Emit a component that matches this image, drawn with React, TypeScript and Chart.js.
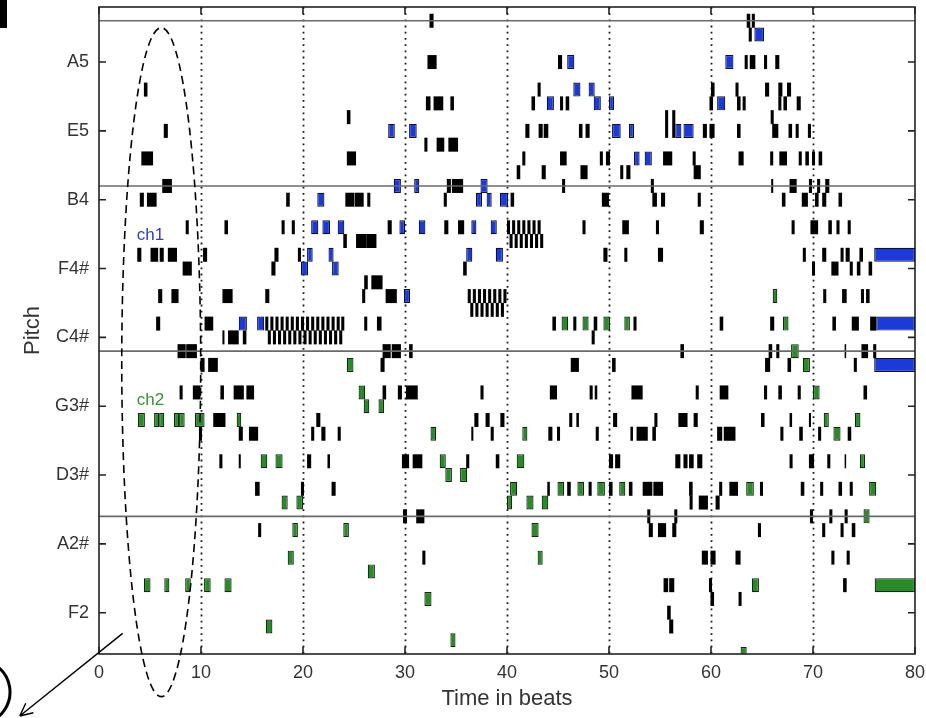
import React, { useEffect, useRef } from 'react';
import { Chart, registerables } from 'chart.js';

Chart.register(...registerables);

// Each note: [start beat, end beat, MIDI pitch]
type Note = [number, number, number];

const beatTicks = [0, 10, 20, 30, 40, 50, 60, 70, 80];
const gridBeats = [10, 20, 30, 40, 50, 60, 70];
const pitchTicks = [41, 46, 51, 56, 61, 66, 71, 76, 81];
const pitchTickLabels = ['F2', 'A2#', 'D3#', 'G3#', 'C4#', 'F4#', 'B4', 'E5', 'A5'];
const octaveLines = [48, 60, 72, 84];
const pitchRange = [38, 85];
const beatRange = [0, 80];

// accompaniment / other voices (black)
const otherNotes: Note[] = [
  [4.0, 4.4, 71], [4.15, 5.3, 74], [4.4, 4.75, 79], [4.7, 5.65, 71], [6.35, 6.75, 76], [6.2, 7.15, 72],
  [3.75, 4.15, 67], [5.05, 5.8, 67], [5.95, 6.35, 67], [6.75, 7.65, 67], [8.2, 9.1, 66], [8.5, 8.8, 69],
  [5.8, 6.2, 64], [7.1, 7.8, 64], [5.6, 6.0, 62], [7.7, 8.5, 60], [8.55, 9.6, 60], [7.9, 8.2, 57], [9.2, 9.95, 57],
  [9.8, 10.1, 54], [9.95, 10.35, 59], [10.2, 10.6, 67], [10.35, 11.2, 62], [10.7, 11.65, 59], [11.2, 12.4, 55],
  [11.8, 12.1, 52], [11.9, 12.25, 57], [12.1, 13.1, 64], [12.1, 12.3, 61], [12.3, 12.65, 69], [12.65, 13.7, 61],
  [13.2, 14.2, 57], [13.7, 14.1, 54], [13.7, 13.9, 52], [14.1, 14.45, 61], [14.45, 15.2, 57], [14.7, 15.6, 54],
  [15.3, 15.75, 50], [15.6, 15.9, 47], [16.3, 16.7, 64], [16.9, 17.3, 66], [17.2, 17.6, 67], [17.9, 18.2, 69],
  [18.35, 18.7, 71], [18.9, 19.2, 69], [19.5, 19.8, 67], [19.8, 20.1, 50], [20.4, 20.8, 52], [20.8, 21.1, 54],
  [21.3, 21.7, 55], [21.8, 22.2, 54], [22.4, 22.65, 52], [22.8, 23.2, 50], [23.4, 23.7, 54], [23.95, 24.3, 68],
  [24.15, 25.0, 71], [24.3, 25.2, 74], [24.3, 24.65, 77], [25.05, 25.95, 71], [25.2, 26.2, 68], [26.2, 27.2, 68],
  [25.8, 26.1, 64], [26.0, 26.35, 65], [26.0, 26.3, 62], [26.3, 26.6, 71], [26.7, 27.8, 65], [27.25, 27.7, 62],
  [27.6, 28.0, 59], [27.8, 28.15, 57], [27.8, 28.6, 60], [28.1, 29.2, 64], [28.3, 28.7, 69], [28.7, 29.6, 60],
  [29.3, 29.7, 57], [29.7, 30.4, 52], [29.8, 30.2, 48], [30.1, 31.25, 57], [30.4, 30.75, 60], [30.75, 31.7, 52],
  [31.1, 31.9, 48], [31.7, 32.0, 45], [31.9, 32.2, 75], [32.05, 32.5, 78], [32.2, 33.1, 81], [32.4, 32.8, 84],
  [32.8, 33.75, 78], [33.1, 33.85, 75], [33.8, 34.1, 71], [33.85, 34.25, 69], [34.1, 34.5, 72], [34.25, 35.2, 75],
  [34.45, 34.8, 78], [34.6, 35.7, 72], [35.2, 35.8, 69], [35.7, 36.05, 66], [36.0, 36.3, 52], [36.5, 36.7, 54],
  [36.8, 37.2, 55], [37.4, 37.7, 57], [37.9, 38.3, 55], [38.4, 38.7, 54], [38.9, 39.25, 52], [39.35, 39.75, 55],
  [40.35, 40.7, 71], [40.95, 41.3, 73], [41.5, 41.8, 74], [41.8, 42.2, 76], [42.4, 42.75, 78], [43.0, 43.3, 79],
  [43.1, 43.5, 76], [43.4, 43.8, 73], [43.6, 44.05, 76], [43.95, 44.2, 50], [44.05, 44.45, 54], [44.2, 44.9, 57],
  [44.45, 44.8, 62], [44.9, 45.2, 54], [45.0, 45.4, 81], [45.2, 45.5, 78], [45.2, 45.85, 74], [45.4, 45.7, 72],
  [45.75, 46.1, 78], [45.9, 46.25, 50], [46.1, 46.4, 55], [46.25, 47.05, 59], [46.5, 46.8, 62], [46.8, 47.05, 55],
  [47.05, 47.4, 76], [47.2, 47.9, 73], [47.4, 47.7, 69], [47.7, 48.1, 76], [48.0, 48.3, 50], [48.1, 48.4, 57],
  [48.3, 48.6, 61], [48.5, 48.85, 62], [48.6, 48.85, 57], [48.7, 49.0, 54], [49.1, 49.4, 74], [49.3, 50.0, 71],
  [49.45, 49.85, 67], [49.7, 50.1, 74], [50.0, 50.35, 50], [50.0, 50.4, 52], [50.3, 50.65, 59], [50.4, 50.8, 55],
  [50.6, 51.1, 52], [51.1, 51.4, 73], [51.3, 51.95, 69], [51.5, 51.8, 67], [51.7, 52.1, 73], [51.95, 52.3, 50],
  [52.1, 52.35, 54], [52.2, 53.3, 57], [52.4, 52.7, 62], [52.7, 53.8, 54], [53.3, 54.25, 50], [53.75, 54.05, 48],
  [53.9, 54.3, 47], [54.1, 54.4, 72], [54.25, 54.7, 71], [54.25, 54.6, 54], [54.45, 54.75, 55], [54.35, 55.3, 50],
  [54.6, 54.9, 69], [54.8, 55.3, 67], [54.8, 55.6, 47], [55.1, 55.5, 71], [55.3, 56.2, 74], [55.35, 55.8, 43],
  [55.5, 55.8, 77], [55.5, 55.8, 76], [55.7, 56.05, 41], [55.9, 56.4, 43], [55.9, 56.3, 40], [56.2, 56.5, 77],
  [56.2, 56.5, 76], [56.2, 56.6, 47], [56.4, 56.7, 48], [56.5, 57.0, 52], [56.8, 57.7, 55], [57.0, 57.35, 60],
  [57.3, 57.7, 52], [57.85, 58.3, 52], [57.85, 58.2, 50], [57.9, 58.2, 49], [58.2, 58.5, 74], [58.3, 59.0, 73],
  [58.3, 58.7, 55], [58.5, 58.8, 57], [58.65, 59.15, 52], [58.7, 59.0, 71], [58.8, 59.7, 49], [58.9, 59.3, 69],
  [59.1, 59.7, 45], [59.2, 59.6, 76], [59.85, 60.35, 76], [59.85, 60.2, 78], [60.0, 60.35, 79], [59.8, 60.1, 43],
  [59.95, 60.3, 42], [59.95, 60.45, 45], [60.45, 60.85, 49], [60.6, 61.1, 54], [60.8, 61.1, 50], [60.85, 61.2, 62],
  [60.85, 61.7, 57], [61.25, 62.4, 54], [61.8, 62.65, 50], [62.4, 62.7, 79], [62.4, 62.9, 45], [62.55, 62.9, 78],
  [62.55, 62.9, 76], [62.7, 63.2, 74], [62.7, 63.0, 42], [63.1, 63.4, 78], [63.3, 63.6, 81], [63.5, 63.85, 84],
  [63.7, 64.0, 83], [63.8, 64.35, 81], [64.0, 64.3, 84], [64.6, 64.9, 47], [64.8, 65.1, 50], [64.9, 65.25, 55],
  [65.2, 65.5, 81], [65.2, 65.5, 57], [65.3, 65.7, 79], [65.3, 65.8, 59], [65.65, 66.0, 60], [65.8, 66.1, 74],
  [65.8, 66.2, 62], [65.85, 66.15, 77], [65.9, 66.1, 72], [66.0, 66.6, 76], [66.3, 66.7, 81], [66.4, 66.7, 60],
  [66.6, 67.0, 79], [66.6, 66.9, 78], [66.6, 66.95, 57], [66.7, 67.45, 74], [66.8, 67.1, 54], [66.95, 67.3, 71],
  [67.1, 67.45, 78], [67.45, 67.85, 79], [67.5, 67.85, 59], [67.6, 67.95, 76], [67.7, 68.0, 52], [67.7, 67.95, 55],
  [67.7, 68.4, 72], [67.9, 68.2, 69], [68.3, 68.6, 76], [68.4, 68.8, 78], [68.5, 68.8, 57], [68.6, 68.9, 74],
  [68.65, 69.0, 54], [68.8, 69.15, 50], [68.9, 69.5, 71], [69.0, 69.3, 67], [69.25, 69.6, 74], [69.5, 69.8, 76],
  [69.6, 69.9, 72], [69.6, 70.1, 52], [69.6, 69.8, 55], [69.7, 70.0, 48], [69.75, 70.5, 69], [69.9, 70.2, 74],
  [69.9, 70.2, 66], [70.2, 70.55, 71], [70.4, 70.7, 72], [70.5, 70.8, 54], [70.55, 70.9, 74], [70.7, 71.0, 50],
  [70.9, 71.3, 71], [70.9, 71.3, 67], [70.9, 71.2, 47], [71.0, 71.3, 64], [71.2, 71.6, 72], [71.4, 71.7, 52],
  [71.5, 71.85, 69], [71.6, 71.9, 48], [71.8, 72.5, 66], [71.8, 72.1, 45], [71.9, 72.25, 62], [72.3, 72.6, 69],
  [72.5, 72.85, 71], [72.5, 72.85, 50], [72.7, 73.0, 67], [72.7, 73.0, 47], [72.85, 73.3, 64], [72.95, 73.3, 43],
  [73.1, 73.25, 60], [73.1, 73.25, 52], [73.1, 73.4, 48], [73.2, 73.6, 67], [73.3, 73.6, 45], [73.4, 73.7, 69],
  [73.4, 73.75, 54], [73.6, 73.9, 66], [73.6, 73.9, 50], [73.8, 74.5, 62], [73.8, 74.15, 47], [74.0, 74.3, 59],
  [74.3, 74.65, 66], [74.55, 74.9, 67], [74.7, 75.0, 64], [74.75, 75.4, 60], [74.95, 75.3, 57], [75.2, 75.55, 64],
  [75.45, 75.8, 66], [75.6, 76.2, 62], [75.9, 76.2, 60],
  // repeated figure, beats 16-24
  [16.3, 16.6, 62], [16.8, 17.1, 62], [17.3, 17.6, 62], [17.8, 18.1, 62], [18.3, 18.6, 62], [18.8, 19.1, 62],
  [19.3, 19.6, 62], [19.8, 20.1, 62], [20.3, 20.6, 62], [20.8, 21.1, 62], [21.3, 21.6, 62], [21.8, 22.1, 62],
  [22.3, 22.6, 62], [22.8, 23.1, 62], [23.3, 23.6, 62], [23.75, 24.05, 62],
  [16.55, 16.85, 61], [17.05, 17.35, 61], [17.55, 17.85, 61], [18.05, 18.35, 61], [18.55, 18.85, 61],
  [19.05, 19.35, 61], [19.55, 19.85, 61], [20.05, 20.35, 61], [20.55, 20.85, 61], [21.05, 21.35, 61],
  [21.55, 21.85, 61], [22.05, 22.35, 61], [22.55, 22.85, 61], [23.05, 23.35, 61], [23.55, 23.85, 61],
  // repeated figure, beats 36-40
  [36.15, 36.45, 64], [36.65, 36.95, 64], [37.15, 37.45, 64], [37.65, 37.95, 64], [38.15, 38.45, 64],
  [38.65, 38.95, 64], [39.15, 39.45, 64], [39.65, 39.95, 64],
  [36.4, 36.7, 63], [36.9, 37.2, 63], [37.4, 37.7, 63], [37.9, 38.2, 63], [38.4, 38.7, 63], [38.9, 39.2, 63],
  [39.4, 39.7, 63],
  // repeated figure, beats 40-43.5
  [40.0, 40.3, 69], [40.5, 40.8, 69], [41.0, 41.3, 69], [41.5, 41.8, 69], [42.0, 42.3, 69], [42.5, 42.8, 69],
  [43.0, 43.3, 69],
  [40.25, 40.55, 68], [40.75, 41.05, 68], [41.25, 41.55, 68], [41.75, 42.05, 68], [42.25, 42.55, 68],
  [42.75, 43.05, 68], [43.25, 43.55, 68],
];

// channel 1 (blue)
const ch1Notes: Note[] = [
  [13.7, 14.5, 62], [15.5, 16.2, 62], [19.8, 20.5, 66], [20.4, 20.95, 67], [20.8, 21.5, 69], [21.4, 22.1, 71],
  [21.9, 22.65, 69], [22.5, 23.0, 67], [22.85, 23.5, 66], [23.4, 24.05, 69], [28.35, 29.0, 76], [28.9, 29.6, 72],
  [29.45, 30.0, 69], [29.9, 30.5, 64], [30.4, 31.15, 76], [30.9, 31.4, 72], [31.35, 32.0, 69], [36.0, 36.6, 67],
  [36.5, 37.0, 69], [36.95, 37.55, 71], [37.4, 38.1, 72], [38.0, 38.5, 71], [38.4, 39.0, 69], [38.9, 39.6, 67],
  [39.3, 40.1, 71], [43.9, 44.6, 78], [45.9, 46.6, 81], [46.5, 47.2, 79], [48.0, 48.6, 79], [48.5, 49.2, 78],
  [50.0, 50.5, 78], [50.3, 51.15, 76], [51.95, 52.45, 76], [52.45, 53.0, 74], [53.5, 54.2, 74], [56.5, 57.1, 76],
  [57.3, 58.3, 76], [60.6, 61.4, 78], [61.4, 62.2, 81], [64.25, 65.2, 83], [76.0, 80, 67], [76.2, 80, 62],
  [76.0, 80, 59],
];

// channel 2 (green)
const ch2Notes: Note[] = [
  [3.8, 4.5, 55], [4.4, 5.05, 43], [5.4, 5.9, 55], [5.9, 6.4, 55], [6.4, 6.9, 43], [7.35, 7.85, 55], [7.85, 8.4, 55],
  [8.45, 9.0, 43], [9.4, 10.35, 55], [10.3, 10.95, 43], [12.3, 13.0, 43], [13.5, 13.95, 55], [15.85, 16.5, 52],
  [16.35, 17.0, 40], [17.3, 18.0, 52], [17.9, 18.5, 49], [18.5, 19.1, 45], [18.95, 19.5, 47], [19.35, 20.0, 49],
  [23.95, 24.5, 47], [24.3, 24.95, 59], [25.45, 26.1, 57], [25.95, 26.5, 56], [26.35, 27.05, 44], [27.4, 27.95, 56],
  [31.9, 32.6, 42], [32.5, 33.05, 54], [33.4, 34.0, 52], [33.95, 34.6, 51], [34.45, 34.95, 39], [35.4, 36.1, 51],
  [40.0, 40.5, 49], [40.3, 41.0, 50], [40.95, 41.7, 52], [41.5, 42.0, 54], [41.9, 42.6, 49], [42.4, 43.1, 47],
  [43.0, 43.5, 45], [43.4, 44.05, 49], [44.95, 45.6, 50], [45.35, 46.0, 62], [46.9, 47.55, 50], [47.4, 48.0, 62],
  [48.85, 49.6, 50], [49.45, 50.1, 62], [51.0, 51.6, 50], [51.5, 52.05, 62], [62.9, 63.5, 38], [63.45, 64.2, 50],
  [64.0, 64.7, 43], [66.05, 66.5, 64], [67.05, 67.6, 62], [67.85, 68.6, 60], [69.0, 69.7, 59], [70.0, 70.65, 57],
  [71.05, 71.55, 55], [72.0, 72.7, 54], [74.1, 74.65, 55], [74.6, 75.1, 52], [74.95, 75.55, 48], [75.5, 76.2, 50],
  [76.05, 80, 43],
];

const fillColors = ['#000000', '#1c3ad8', '#2a8a2a'];
const edgeColors = ['#000000', '#0a0f3c', '#0c2a0c'];
const labelFont = '"Liberation Sans", Arial, Helvetica, sans-serif';

const pianoRollDecor = {
  id: 'pianoRollDecor',
  beforeDatasetsDraw(chart: any) {
    const { ctx, chartArea: a, scales } = chart;
    const x = scales.x;
    ctx.save();
    ctx.strokeStyle = '#1a1a1a';
    ctx.lineWidth = 1.8;
    ctx.setLineDash([1.8, 4.4]);
    for (const b of gridBeats) {
      const px = Math.round(x.getPixelForValue(b)) + 0.5;
      ctx.beginPath();
      ctx.moveTo(px, a.top);
      ctx.lineTo(px, a.bottom);
      ctx.stroke();
    }
    ctx.restore();
  },
  afterDatasetsDraw(chart: any) {
    const { ctx, chartArea: a, scales } = chart;
    const x = scales.x;
    const y = scales.y;
    ctx.save();
    // octave lines at every C
    ctx.strokeStyle = '#6a6a6a';
    ctx.lineWidth = 1.6;
    for (const p of octaveLines) {
      const py = y.getPixelForValue(p);
      if (py < a.top || py > a.bottom) continue;
      ctx.beginPath();
      ctx.moveTo(a.left, py);
      ctx.lineTo(a.right, py);
      ctx.stroke();
    }
    // frame
    ctx.strokeStyle = '#222';
    ctx.lineWidth = 1.6;
    ctx.strokeRect(a.left, a.top, a.right - a.left, a.bottom - a.top);
    // inward ticks on all four sides
    const tl = 7;
    ctx.beginPath();
    for (const b of beatTicks) {
      const px = x.getPixelForValue(b);
      ctx.moveTo(px, a.bottom);
      ctx.lineTo(px, a.bottom - tl);
      ctx.moveTo(px, a.top);
      ctx.lineTo(px, a.top + tl);
    }
    for (const p of pitchTicks) {
      const py = y.getPixelForValue(p);
      ctx.moveTo(a.left, py);
      ctx.lineTo(a.left + tl, py);
      ctx.moveTo(a.right, py);
      ctx.lineTo(a.right - tl, py);
    }
    ctx.stroke();
    ctx.restore();
  },
  afterDraw(chart: any) {
    const { ctx, scales } = chart;
    const x = scales.x;
    const y = scales.y;
    ctx.save();
    // channel names
    ctx.font = `17px ${labelFont}`;
    ctx.textBaseline = 'middle';
    ctx.textAlign = 'left';
    ctx.fillStyle = '#2f3fb8';
    ctx.fillText('ch1', x.getPixelForValue(3.7), y.getPixelForValue(68.4));
    ctx.fillStyle = '#3a8f3a';
    ctx.fillText('ch2', x.getPixelForValue(3.7), y.getPixelForValue(56.45));

    // dashed ellipse around the opening beats
    const cx = x.getPixelForValue(6.1);
    const cy = y.getPixelForValue(59.2);
    const rx = x.getPixelForValue(6.1 + 3.87) - cx;
    const ry = y.getPixelForValue(59.2 - 24.3) - cy;
    ctx.strokeStyle = '#000';
    ctx.lineWidth = 1.6;
    ctx.setLineDash([8, 5]);
    ctx.beginPath();
    ctx.ellipse(cx, cy, rx, ry, 0, 0, Math.PI * 2);
    ctx.stroke();
    ctx.setLineDash([]);

    // pointer arrow
    const sx = x.getPixelForValue(2.32);
    const sy = y.getPixelForValue(39.5);
    const ex = x.getPixelForValue(-7.77);
    const ey = y.getPixelForValue(33.5);
    ctx.lineWidth = 1.4;
    ctx.beginPath();
    ctx.moveTo(sx, sy);
    ctx.lineTo(ex, ey);
    const ang = Math.atan2(ey - sy, ex - sx);
    const hl = 14;
    ctx.moveTo(ex, ey);
    ctx.lineTo(ex - hl * Math.cos(ang - 0.45), ey - hl * Math.sin(ang - 0.45));
    ctx.moveTo(ex, ey);
    ctx.lineTo(ex - hl * Math.cos(ang + 0.45), ey - hl * Math.sin(ang + 0.45));
    ctx.stroke();

    // edge marks
    ctx.fillStyle = '#000';
    ctx.fillRect(0, 0, 7, 28);
    ctx.lineWidth = 3;
    ctx.beginPath();
    ctx.arc(-22, 692, 32, -0.95, 0.95);
    ctx.stroke();
    ctx.restore();
  },
};

export default function App() {
  const canvasRef = useRef<HTMLCanvasElement | null>(null);

  useEffect(() => {
    document.body.style.margin = '0';
    const canvas = canvasRef.current;
    if (!canvas) return;

    const toPoints = (notes: Note[], ch: number) =>
      notes.map((n) => ({ x: [n[0], n[1]], y: n[2], ch }));
    const points = [...toPoints(otherNotes, 0), ...toPoints(ch1Notes, 1), ...toPoints(ch2Notes, 2)];

    const chart = new Chart(canvas, {
      type: 'bar',
      data: {
        datasets: [
          {
            data: points as any,
            barThickness: 14,
            borderSkipped: false,
            inflateAmount: 0,
            backgroundColor: (c: any) => fillColors[c.raw ? c.raw.ch : 0],
            borderColor: (c: any) => edgeColors[c.raw ? c.raw.ch : 0],
            borderWidth: (c: any) => (c.raw && c.raw.ch > 0 ? 1.2 : 0),
          } as any,
        ],
      },
      options: {
        responsive: false,
        animation: false,
        indexAxis: 'y',
        layout: { padding: { top: 7, right: 11, bottom: 0, left: 0 } },
        plugins: {
          legend: { display: false },
          tooltip: { enabled: false },
        },
        scales: {
          x: {
            type: 'linear',
            min: beatRange[0],
            max: beatRange[1],
            offset: false,
            afterBuildTicks: (s: any) => {
              s.ticks = beatTicks.map((v) => ({ value: v }));
            },
            afterFit: (s: any) => {
              s.height = 64;
              s.paddingLeft = 0;
              s.paddingRight = 0;
            },
            grid: { display: false, drawTicks: false, offset: false },
            border: { display: false },
            ticks: {
              autoSkip: false,
              maxRotation: 0,
              padding: 8,
              color: '#333',
              font: { family: labelFont, size: 18 },
            },
            title: {
              display: true,
              text: 'Time in beats',
              color: '#333',
              font: { family: labelFont, size: 22 },
              padding: { top: 0, bottom: 6 },
            },
          },
          y: {
            type: 'linear',
            min: pitchRange[0],
            max: pitchRange[1],
            offset: false,
            afterBuildTicks: (s: any) => {
              s.ticks = pitchTicks.map((v) => ({ value: v }));
            },
            afterFit: (s: any) => {
              s.width = 99;
              s.paddingTop = 0;
              s.paddingBottom = 0;
            },
            grid: { display: false, drawTicks: false, offset: false },
            border: { display: false },
            ticks: {
              autoSkip: false,
              padding: 10,
              color: '#333',
              font: { family: labelFont, size: 18 },
              callback: (v: any) => {
                const i = pitchTicks.indexOf(Number(v));
                return i >= 0 ? pitchTickLabels[i] : '';
              },
            },
            title: {
              display: true,
              text: 'Pitch',
              color: '#333',
              font: { family: labelFont, size: 22 },
              padding: { top: 20, bottom: 0 },
            },
          },
        },
      } as any,
      plugins: [pianoRollDecor],
    });

    return () => chart.destroy();
  }, []);

  return (
    <div style={{ width: 926, height: 718, background: '#fff' }}>
      <canvas ref={canvasRef} width={926} height={718} style={{ display: 'block' }} />
    </div>
  );
}
